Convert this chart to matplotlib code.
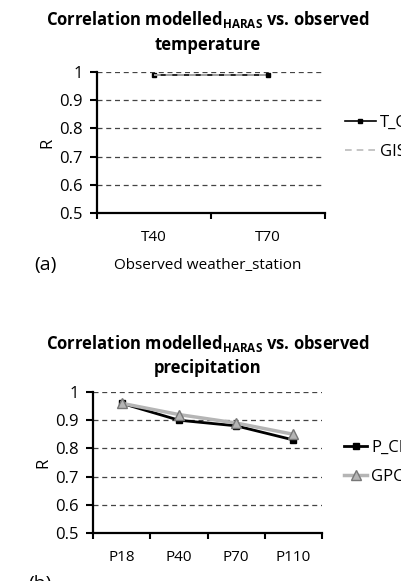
import matplotlib
matplotlib.use("Agg")
import matplotlib.pyplot as plt

plt.rcParams['font.family'] = ['Open Sans', 'DejaVu Sans']
plt.rcParams['mathtext.fontset'] = 'custom'
plt.rcParams['mathtext.rm'] = 'Open Sans'
plt.rcParams['mathtext.bf'] = 'Open Sans:bold'

# data
temp_stations = ['T40', 'T70']
t_cru = [0.99, 0.99]
giss = [0.99, 0.99]

prec_stations = ['P18', 'P40', 'P70', 'P110']
p_cru = [0.96, 0.90, 0.88, 0.83]
gpcc = [0.96, 0.92, 0.89, 0.85]

W, H = 401, 581
fig = plt.figure(figsize=(W / 100, H / 100), dpi=100)


def px_axes(x0, y_top, x1, y_bot):
    return fig.add_axes([x0 / W, 1 - y_bot / H, (x1 - x0) / W, (y_bot - y_top) / H])


def style_axes(ax, cats):
    n = len(cats)
    ax.set_xlim(-0.5, n - 0.5)
    ax.set_ylim(0.5, 1.0)
    ax.set_yticks([0.5, 0.6, 0.7, 0.8, 0.9, 1.0])
    ax.set_yticklabels(['0.5', '0.6', '0.7', '0.8', '0.9', '1'])
    ax.set_xticks([i - 0.5 for i in range(n + 1)])
    ax.set_xticklabels([])
    ax.set_xticks(range(n), minor=True)
    ax.set_xticklabels(cats, minor=True)
    ax.tick_params(axis='x', which='minor', length=0, pad=12, labelsize=11)
    ax.tick_params(axis='x', which='major', length=4, width=1.5, direction='out')
    ax.tick_params(axis='y', length=5, width=1.5, direction='out', labelsize=12, pad=5)
    for s in ['top', 'right']:
        ax.spines[s].set_visible(False)
    for s in ['left', 'bottom']:
        ax.spines[s].set_linewidth(1.6)
    ax.yaxis.grid(True, linestyle=(0, (4, 3)), color='#444444', linewidth=0.9)
    ax.set_axisbelow(True)
    ax.set_ylabel('R', fontsize=12, labelpad=3)


# (a) temperature
ax1 = px_axes(97, 72, 325, 213)
style_axes(ax1, temp_stations)
x = range(len(temp_stations))
ax1.plot(x, t_cru, color='black', linewidth=1.2, marker='s', markersize=3.5,
         label='T_CRU', clip_on=False, zorder=3)
ax1.plot(x, giss, color='#bbbbbb', linewidth=1.2, linestyle=(0, (4, 3)),
         label='GISS', clip_on=False, zorder=4)
fig.text(208 / W, 1 - 20 / H, r'Correlation modelled$_{\mathbf{HARAS}}$ vs. observed',
         ha='center', va='center', fontsize=12, fontweight='bold')
fig.text(208 / W, 1 - 45 / H, 'temperature', ha='center', va='center',
         fontsize=12, fontweight='bold')
fig.text(45 / W, 1 - 265 / H, '(a)', ha='center', va='center', fontsize=14)
fig.text(208 / W, 1 - 265 / H, 'Observed weather_station', ha='center',
         va='center', fontsize=11)
ax1.legend(loc='center left', bbox_to_anchor=(345 / W, 1 - 137.5 / H),
           bbox_transform=fig.transFigure, frameon=False, fontsize=12,
           handlelength=1.85, handletextpad=0.25, labelspacing=0.75, borderpad=0,
           borderaxespad=0)

# (b) precipitation
ax2 = px_axes(93, 392, 322, 533)
style_axes(ax2, prec_stations)
x = range(len(prec_stations))
ax2.plot(x, gpcc, color='#b5b5b5', linewidth=2.5, marker='^', markersize=7,
         markerfacecolor='#b5b5b5', markeredgecolor='#777777', label='GPCC',
         zorder=3)
ax2.plot(x, p_cru, color='black', linewidth=2.0, marker='s', markersize=4,
         label='P_CRU', zorder=2)
fig.text(208 / W, 1 - 343 / H, r'Correlation modelled$_{\mathbf{HARAS}}$ vs. observed',
         ha='center', va='center', fontsize=12, fontweight='bold')
fig.text(208 / W, 1 - 368 / H, 'precipitation', ha='center', va='center',
         fontsize=12, fontweight='bold')
fig.text(40 / W, 1 - 584 / H, '(b)', ha='center', va='center', fontsize=14)
h, l = ax2.get_legend_handles_labels()
ax2.legend(h[::-1], l[::-1], loc='center left', bbox_to_anchor=(344 / W, 1 - 462.5 / H),
           bbox_transform=fig.transFigure, frameon=False, fontsize=12,
           handlelength=1.4, handletextpad=0.25, labelspacing=0.75, borderpad=0,
           borderaxespad=0)

fig.savefig('out.png', dpi=100)
